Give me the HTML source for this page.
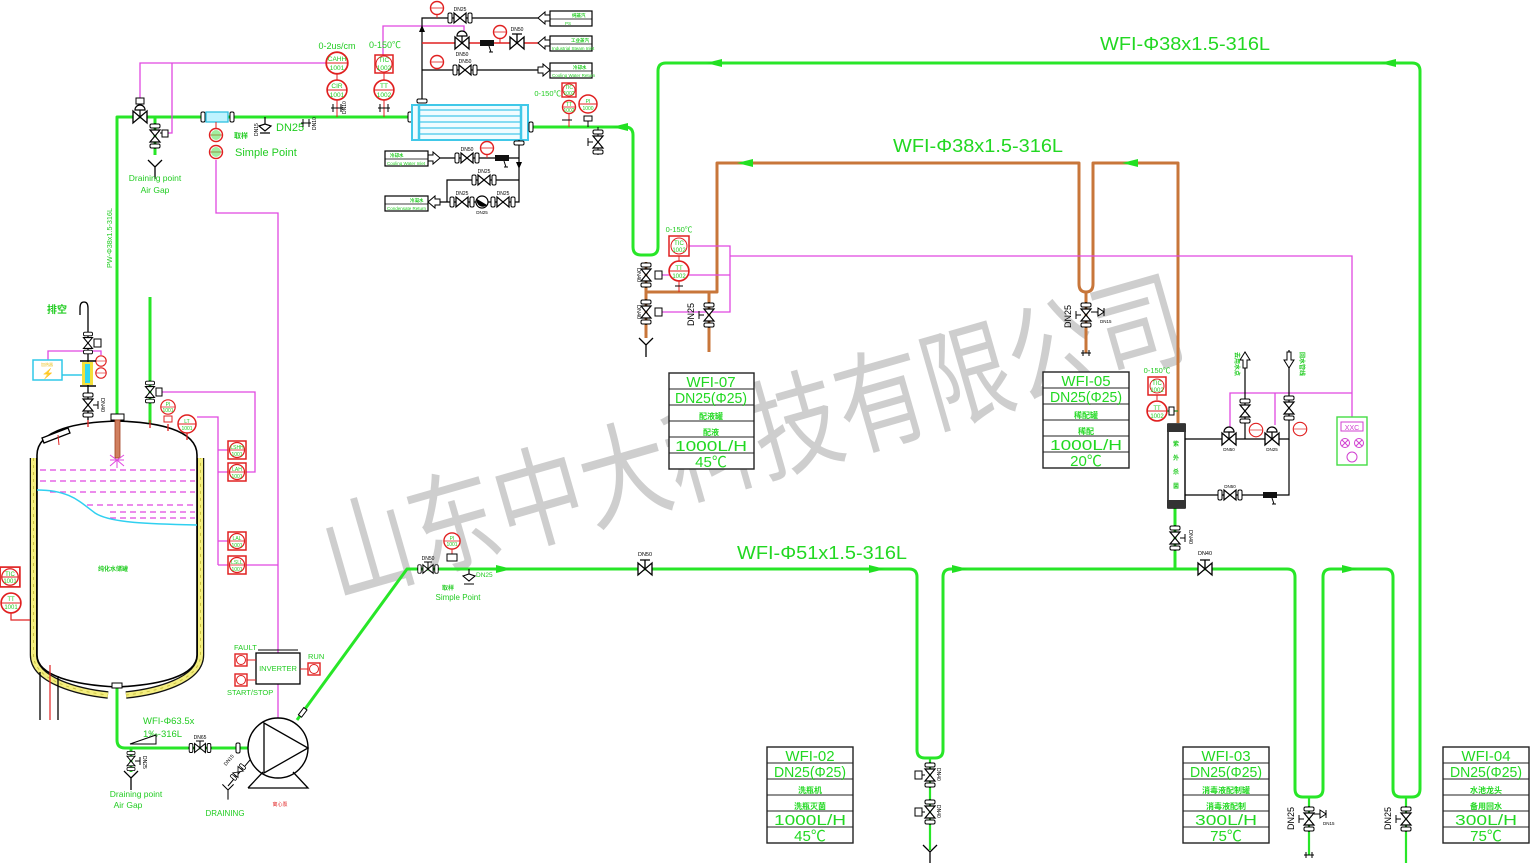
<!DOCTYPE html>
<html><head><meta charset="utf-8">
<style>html,body{margin:0;padding:0;background:#fff;}svg{display:block;}</style>
</head><body>
<svg xmlns="http://www.w3.org/2000/svg" width="1530" height="863" viewBox="0 0 1530 863" font-family="'Liberation Sans','Noto Sans CJK SC',sans-serif">
<defs>
<g id="hv"><line x1="-13" x2="13" stroke="#000" stroke-width="1"/><rect x="-12" y="-5" width="4" height="10" rx="1.5" fill="#fff" stroke="#000"/><rect x="8" y="-5" width="4" height="10" rx="1.5" fill="#fff" stroke="#000"/><path d="M-6,-5L6,5L6,-5L-6,5Z" fill="#fff" stroke="#000" stroke-width="1.2"/></g>
<g id="vv"><line y1="-13" y2="13" stroke="#000"/><rect x="-5" y="-12" width="10" height="4" rx="1.5" fill="#fff" stroke="#000"/><rect x="-5" y="8" width="10" height="4" rx="1.5" fill="#fff" stroke="#000"/><path d="M-5,-6L5,6L-5,6L5,-6Z" fill="#fff" stroke="#000" stroke-width="1.2"/></g>
<g id="bt"><path d="M-7,-6L7,6L7,-6L-7,6Z" fill="#fff" stroke="#000" stroke-width="1.3"/><path d="M0,0V-9M-5,-9H5" stroke="#000" stroke-width="1.3" fill="none"/></g>
<g id="cv"><path d="M-7,-6L7,6L7,-6L-7,6Z" fill="#fff" stroke="#000" stroke-width="1.3"/><path d="M0,0V-7M-5,-7A5,5 0 0 1 5,-7Z" stroke="#000" stroke-width="1.2" fill="#fff"/></g>
<g id="ic"><circle r="9" fill="#fff" stroke="#e02020" stroke-width="1.5"/><line x1="-9" x2="9" stroke="#e02020" stroke-width="0.9"/></g>
<g id="sc"><circle r="6.5" fill="#fff" stroke="#e02020" stroke-width="1.4"/><line x1="-6.5" x2="6.5" stroke="#e02020" stroke-width="0.8"/></g>
<g id="bx"><rect x="-9" y="-9" width="18" height="18" fill="#fff" stroke="#e02020" stroke-width="1.5"/><circle r="7.5" fill="none" stroke="#e02020" stroke-width="1.2"/><line x1="-7.5" x2="7.5" stroke="#e02020" stroke-width="0.8"/></g>
<g id="fl"><rect x="-5" y="-2" width="10" height="4" rx="1.5" fill="#fff" stroke="#000"/></g>
<g id="fh"><rect x="-2" y="-5" width="4" height="10" rx="1.5" fill="#fff" stroke="#000"/></g>
<path id="al" d="M0,0L16,-4L16,4Z" fill="#22e022"/>
<g id="dy"><path d="M-7,-7L0,0L7,-7M0,0V12" stroke="#000" stroke-width="1.3" fill="none"/></g>
<g id="st"><rect x="-7" y="-3" width="14" height="6" fill="#111"/><path d="M2,3L4,9M2,9H6" stroke="#000" fill="none"/></g>
</defs>

<!-- watermark -->
<text x="336" y="598" font-size="110" fill="#c6c6c6" fill-opacity="0.85" font-family="'Noto Sans CJK SC',sans-serif" transform="rotate(-16 336 598)" textLength="890" lengthAdjust="spacingAndGlyphs">山东中大科技有限公司</text>

<!-- GREEN PIPES -->
<g fill="none" stroke="#28e628" stroke-width="3" stroke-linejoin="round">
 <path d="M117,420 V117 H410"/>
 <path d="M530,127 H625 Q633,127 633,135 V247 Q633,255 641,255 H650 Q658,255 658,247 V71 Q658,63 666,63 H1412 Q1420,63 1420,71 V789 Q1420,797 1412,797 H1401 Q1393,797 1393,789 V577 Q1393,569 1385,569 H1331 Q1323,569 1323,577 V789 Q1323,797 1315,797 H1303 Q1295,797 1295,789 V577 Q1295,569 1287,569 H951 Q943,569 943,577 V750 Q943,758 935,758 H925 Q917,758 917,750 V577 Q917,569 909,569 H407 L297,720"/>
 <path d="M117,687 V740 Q117,748 125,748 H248"/>
 <path d="M1175,507 V569"/>
 <path d="M150,297 V425"/>
 <path d="M155,117 V155"/>
 <path d="M131,748 V772"/>
 <path d="M930,758 V850" stroke-width="2.2"/>
 <path d="M1309,797 V855" stroke-width="2.2"/>
 <path d="M1406,797 V863" stroke-width="2.2"/>
</g>
<use href="#al" transform="translate(706,63)"/>
<use href="#al" transform="translate(1380,63)"/>
<use href="#al" transform="translate(612,127)"/>
<use href="#al" transform="translate(512,569) rotate(180)"/>
<use href="#al" transform="translate(885,569) rotate(180)"/>
<use href="#al" transform="translate(968,569) rotate(180)"/>
<use href="#al" transform="translate(1358,569) rotate(180)"/>

<!-- ORANGE PIPES -->
<g fill="none" stroke="#c8763a" stroke-width="3" stroke-linejoin="round">
 <path d="M646,292 H717 V163 H1079 V284 Q1079,292 1086,292 Q1093,292 1093,284 V163 H1178 V423"/>
 <path d="M709,292 V352"/>
 <path d="M646,262 V338"/>
 <path d="M1086,292 V353"/>
</g>
<use href="#al" transform="translate(737,163)"/>
<use href="#al" transform="translate(1122,163)"/>

<!-- MAGENTA SIGNAL -->
<g fill="none" stroke="#e048e0" stroke-width="1.3">
 <path d="M140,101 V63 H326"/>
 <path d="M172,63 V133 H166"/>
 <path d="M216,160 V213 H278 V653"/>
 <path d="M278,684 V718"/>
 <path d="M383,56 V26 H464 V34"/>
 <path d="M218,565 H228 M246,565 H278"/>
 <path d="M160,392 H255 V472 H246"/>
 <path d="M197,417 H218 V565"/>
 <path d="M218,450 H228 M218,472 H228 M218,541 H228"/>
 <path d="M689,246 H730 V312 H662"/>
 <path d="M662,275 H730"/>
 <path d="M730,256 H1352 V417"/>
 <path d="M1230,430 V393 H1352"/>
 <path d="M1275,425 V393"/>
 <path d="M48,360 V351 H101 V355"/>
</g>

<!-- LABELS big -->
<g fill="#22d822" font-size="18">
 <text x="1100" y="50" textLength="170" lengthAdjust="spacingAndGlyphs">WFI-Φ38x1.5-316L</text>
 <text x="893" y="152" textLength="170" lengthAdjust="spacingAndGlyphs">WFI-Φ38x1.5-316L</text>
 <text x="737" y="559" textLength="170" lengthAdjust="spacingAndGlyphs">WFI-Φ51x1.5-316L</text>
</g>

<!-- TOP LEFT -->
<text x="112" y="268" font-size="7.5" fill="#22cc22" transform="rotate(-90 112 268)" textLength="60" lengthAdjust="spacingAndGlyphs">PW-Φ38x1.5-316L</text>
<use href="#cv" transform="translate(140,117)"/>
<rect x="136" y="98" width="8" height="6" fill="#fff" stroke="#000"/>
<use href="#vv" transform="translate(155,136)"/>
<rect x="162" y="130" width="6" height="7" fill="#fff" stroke="#000"/>
<line x1="160" y1="133" x2="162" y2="133" stroke="#000"/>
<use href="#dy" transform="translate(155,167)"/>
<g fill="#22cc22" font-size="8.5" text-anchor="middle"><text x="155" y="181">Draining point</text><text x="155" y="193">Air Gap</text></g>
<use href="#fh" transform="translate(203,117)"/><use href="#fh" transform="translate(232,117)"/>
<rect x="206" y="112" width="22" height="10" fill="#bff3ff" stroke="#30c0e0" stroke-width="1.3"/>
<line x1="216" y1="122" x2="216" y2="128" stroke="#e02020"/>
<use href="#sc" transform="translate(216,135)"/><use href="#sc" transform="translate(216,152)"/>
<circle cx="216" cy="135" r="5" fill="#44dd44" fill-opacity="0.5"/><circle cx="216" cy="152" r="5" fill="#44dd44" fill-opacity="0.5"/>
<text x="234" y="138" font-size="7" fill="#22cc22" font-weight="bold">取样</text>
<text x="235" y="156" font-size="11" fill="#22cc22">Simple Point</text>
<path d="M265,117 V124 M259,126 L265,124 L271,126 L265,131 Z M260,133 H270" stroke="#000" fill="#fff" stroke-width="1.2"/>
<text x="276" y="131" font-size="11" fill="#22cc22">DN25</text>
<text x="258" y="136" font-size="5" fill="#000" transform="rotate(-90 258 136)">DN15</text>
<path d="M301,123 h10 M303,119 v8 M309,119 v8" stroke="#000" fill="none"/>
<text x="316" y="130" font-size="5" fill="#000" transform="rotate(-90 316 130)">DN10</text>
<text x="337" y="49" font-size="9" fill="#22cc22" text-anchor="middle">0-2us/cm</text>
<use href="#ic" transform="translate(337,63) scale(1.2)"/>
<line x1="337" y1="74" x2="337" y2="80" stroke="#e02020"/>
<use href="#ic" transform="translate(337,90) scale(1.1)"/>
<line x1="337" y1="100" x2="337" y2="117" stroke="#e02020"/>
<path d="M331,108 h12 M333,104 v8 M341,104 v8" stroke="#000" fill="none"/>
<text x="346" y="114" font-size="5" fill="#000" transform="rotate(-90 346 114)">DN10</text>
<g fill="#22cc22" font-size="6.5" text-anchor="middle"><text x="337" y="61">CAHH</text><text x="337" y="70">1001</text><text x="337" y="88">CIR</text><text x="337" y="97">1001</text></g>
<text x="385" y="48" font-size="9" fill="#22cc22" text-anchor="middle">0-150℃</text>
<rect x="375" y="55" width="18" height="18" fill="#fff" stroke="#e02020" stroke-width="1.5"/>
<circle cx="384" cy="64" r="8" fill="none" stroke="#e02020"/>
<line x1="384" y1="73" x2="384" y2="80" stroke="#e02020"/>
<use href="#ic" transform="translate(384,90) scale(1.1)"/>
<line x1="384" y1="100" x2="384" y2="117" stroke="#e02020"/>
<path d="M378,108 h12 M380,104 v8 M388,104 v8" stroke="#000" fill="none"/>
<g fill="#22cc22" font-size="6.5" text-anchor="middle"><text x="384" y="62">TIC</text><text x="384" y="70">1002</text><text x="384" y="88">TT</text><text x="384" y="97">1002</text></g>

<!-- HEAT EXCHANGER -->
<use href="#fh" transform="translate(410,117)"/>
<rect x="412" y="105" width="116" height="35" fill="#effcff" stroke="#40c8e8" stroke-width="2"/>
<g stroke="#60d0ee" stroke-width="1.6"><line x1="420" y1="110" x2="520" y2="110"/><line x1="420" y1="116" x2="520" y2="116"/><line x1="420" y1="122" x2="520" y2="122"/><line x1="420" y1="128" x2="520" y2="128"/><line x1="420" y1="134" x2="520" y2="134"/></g>
<line x1="419" y1="105" x2="419" y2="140" stroke="#40c8e8" stroke-width="2.5"/>
<line x1="521" y1="105" x2="521" y2="140" stroke="#40c8e8" stroke-width="2.5"/>
<use href="#fh" transform="translate(531,127)"/>
<g stroke="#000" fill="none" stroke-width="1.2">
 <path d="M422,100 V18 H538"/>
 <path d="M422,70 H538"/>
 <path d="M519,140 V202 H428"/>
 <path d="M440,158 H519"/>
 <path d="M447,202 V180 H519"/>
</g>
<path d="M422,43 H538" stroke="#e02020" stroke-width="1.5"/>
<path d="M419,32 L422,25 L425,32 Z" fill="#000"/>
<use href="#fl" transform="translate(422,101)"/>
<use href="#fl" transform="translate(519,143)"/>
<path d="M516,162 L519,169 L522,162 Z" fill="#000"/>
<line x1="437" y1="14" x2="437" y2="18" stroke="#e02020"/>
<use href="#sc" transform="translate(437,8)"/>
<use href="#hv" transform="translate(460,18)"/>
<text x="460" y="11" font-size="5" text-anchor="middle">DN25</text>
<use href="#cv" transform="translate(462,43)"/>
<text x="462" y="56" font-size="5" text-anchor="middle">DN50</text>
<use href="#st" transform="translate(487,43)"/>
<line x1="500" y1="38" x2="500" y2="43" stroke="#e02020"/>
<use href="#sc" transform="translate(500,32)"/>
<use href="#bt" transform="translate(517,43)"/>
<text x="517" y="31" font-size="5" text-anchor="middle">DN50</text>
<line x1="437" y1="68" x2="437" y2="70" stroke="#e02020"/>
<use href="#sc" transform="translate(437,62)"/>
<use href="#hv" transform="translate(465,70)"/>
<text x="465" y="63" font-size="5" text-anchor="middle">DN50</text>
<g fill="#fff" stroke="#000" stroke-width="1">
 <path d="M538,18 L545,12 V15 H550 V21 H545 V24 Z"/>
 <path d="M538,43 L545,37 V40 H550 V46 H545 V49 Z"/>
 <path d="M550,70 L543,64 V67 H538 V73 H543 V76 Z"/>
 <path d="M440,158 L433,152 V155 H428 V161 H433 V164 Z"/>
 <path d="M428,202 L435,196 V199 H440 V205 H435 V208 Z"/>
</g>
<g fill="#fff" stroke="#000" stroke-width="1.2">
 <rect x="550" y="11" width="42" height="15"/><rect x="550" y="36" width="42" height="15"/><rect x="550" y="63" width="42" height="15"/>
 <rect x="385" y="151" width="43" height="15"/><rect x="385" y="196" width="43" height="15"/>
</g>
<g stroke="#000" stroke-width="0.8"><line x1="550" y1="19" x2="592" y2="19"/><line x1="550" y1="44" x2="592" y2="44"/><line x1="550" y1="71" x2="592" y2="71"/><line x1="385" y1="159" x2="428" y2="159"/><line x1="385" y1="204" x2="428" y2="204"/></g>
<g fill="#22cc22" font-size="4.5">
 <text x="572" y="17" font-weight="bold">纯蒸汽</text><text x="565" y="25">PS</text>
 <text x="571" y="42" font-weight="bold">工业蒸汽</text><text x="552" y="50">Industrial Steam Inlet</text>
 <text x="573" y="69" font-weight="bold">冷却水</text><text x="552" y="77">Cooling Water Return</text>
 <text x="390" y="157" font-weight="bold">冷却水</text><text x="387" y="165">Cooling Water Inlet</text>
 <text x="410" y="202" font-weight="bold">冷凝水</text><text x="387" y="210">Condensate Return</text>
</g>
<use href="#hv" transform="translate(467,158)"/>
<text x="467" y="151" font-size="5" text-anchor="middle">DN50</text>
<line x1="487" y1="154" x2="487" y2="158" stroke="#e02020"/>
<use href="#sc" transform="translate(487,148)"/>
<use href="#st" transform="translate(502,158)"/>
<use href="#hv" transform="translate(484,180)"/>
<text x="484" y="173" font-size="5" text-anchor="middle">DN25</text>
<use href="#hv" transform="translate(462,202)"/>
<text x="462" y="195" font-size="5" text-anchor="middle">DN25</text>
<circle cx="482" cy="202" r="6" fill="#fff" stroke="#000" stroke-width="1.2"/>
<path d="M477,199 A6,6 0 0 0 487,205 Z" fill="#000"/>
<text x="482" y="214" font-size="4.5" text-anchor="middle">DN25</text>
<use href="#hv" transform="translate(503,202)"/>
<text x="503" y="195" font-size="5" text-anchor="middle">DN25</text>

<!-- right of HE -->
<text x="561" y="96" font-size="7.5" fill="#22cc22" text-anchor="end">0-150℃</text>
<rect x="562" y="83" width="14" height="14" fill="#fff" stroke="#e02020" stroke-width="1.4"/>
<circle cx="569" cy="90" r="6" fill="none" stroke="#e02020"/>
<use href="#sc" transform="translate(569,107)"/>
<line x1="569" y1="113" x2="569" y2="127" stroke="#e02020"/>
<path d="M562,120 h10" stroke="#000"/>
<use href="#ic" transform="translate(588,104)"/>
<rect x="584" y="116" width="8" height="5" fill="#fff" stroke="#000"/>
<line x1="588" y1="121" x2="588" y2="127" stroke="#000"/>
<g fill="#22cc22" font-size="5" text-anchor="middle"><text x="569" y="89">TIC</text><text x="569" y="95">1002</text><text x="569" y="106">TT</text><text x="569" y="112">1002</text><text x="588" y="103">PI</text><text x="588" y="110">1000</text></g>
<line x1="598" y1="127" x2="598" y2="131" stroke="#000"/>
<use href="#vv" transform="translate(598,142)"/>
<path d="M593,142 H588 M588,138 V146" stroke="#000"/>

<!-- TANK -->
<text x="47" y="313" font-size="10" fill="#22cc22" font-weight="bold">排空</text>
<path d="M80,315 V308 Q80,302 84,302 Q88,302 88,308 V420" stroke="#000" stroke-width="1.3" fill="none"/>
<use href="#vv" transform="translate(88,343) scale(0.9)"/>
<rect x="94" y="339" width="7" height="8" fill="#fff" stroke="#000"/>
<use href="#sc" transform="translate(101,361) scale(0.8)"/>
<use href="#sc" transform="translate(101,373) scale(0.8)"/>
<rect x="82" y="362" width="11" height="23" fill="#f3e03a"/>
<rect x="85" y="364" width="5" height="19" fill="#30d8f0"/>
<line x1="80" y1="361" x2="96" y2="361" stroke="#000" stroke-width="1.5"/>
<line x1="80" y1="386" x2="96" y2="386" stroke="#000" stroke-width="1.5"/>
<rect x="33" y="360" width="29" height="20" fill="#fff" stroke="#30c8e8" stroke-width="1.5"/>
<text x="47" y="366" font-size="4" fill="#e8c020" text-anchor="middle">加热器</text>
<text x="48" y="377" font-size="10" fill="#e8c020" text-anchor="middle">⚡</text>
<line x1="62" y1="375" x2="82" y2="375" stroke="#30c8e8" stroke-width="1.5"/>
<use href="#vv" transform="translate(88,405)"/>
<path d="M93,405 H98 M98,401 V409" stroke="#000"/>
<text x="101" y="398" font-size="5.5" transform="rotate(90 101 398)">DN40</text>
<!-- jacket -->
<path d="M33.5,458 V655 C33.5,681 80,692 108,695 M126,695 C155,692 200.5,681 200.5,655 V458" fill="none" stroke="#111" stroke-width="7.5"/>
<path d="M33.5,458 V655 C33.5,681 80,692 108,695 M126,695 C155,692 200.5,681 200.5,655 V458" fill="none" stroke="#f4ee80" stroke-width="5"/>
<path d="M33.5,458 V655 C33.5,681 80,692 108,695 M126,695 C155,692 200.5,681 200.5,655 V458" fill="none" stroke="#c8c040" stroke-width="1" stroke-dasharray="3 4"/>
<path d="M37,455 C37,429 80,422 117,421 C155,422 197,429 197,455 V655 C197,676 160,685 117,687 C75,685 37,676 37,655 Z" fill="#fff" stroke="#000" stroke-width="1.6"/>
<g stroke="#000" stroke-width="1.3"><line x1="40" y1="672" x2="40" y2="720"/><line x1="58" y1="676" x2="58" y2="720"/></g>
<line x1="50" y1="665" x2="50" y2="720" stroke="#e02020" stroke-width="1.2"/>
<path d="M42,438 L68,428 L70,433 L44,443 Z" fill="#fff" stroke="#000" stroke-width="1.3"/>
<line x1="58" y1="435" x2="59" y2="445" stroke="#e02020"/>
<rect x="111" y="414" width="13" height="6" fill="#fff" stroke="#000"/>
<rect x="115" y="420" width="5" height="38" fill="#d08060" stroke="#a04020" stroke-width="0.8"/>
<g stroke="#e048e0" stroke-width="1"><path d="M117,460 l-7,-5 M117,460 l7,-5 M117,460 l-7,6 M117,460 l7,6 M117,460 v8 M110,460 h14"/></g>
<g stroke="#e02020" stroke-width="1.3"><line x1="88" y1="420" x2="88" y2="427"/><line x1="150" y1="420" x2="150" y2="428"/><line x1="168" y1="424" x2="168" y2="431"/><line x1="187" y1="432" x2="187" y2="440"/></g>
<use href="#vv" transform="translate(150,392) scale(0.9)"/>
<rect x="156" y="388" width="6" height="8" fill="#fff" stroke="#000"/>
<use href="#ic" transform="translate(168,407) scale(0.8)"/>
<rect x="164" y="416" width="8" height="6" fill="#fff" stroke="#e02020"/>
<use href="#ic" transform="translate(187,424)"/>
<g fill="#22cc22" font-size="5" text-anchor="middle"><text x="168" y="406">PI</text><text x="168" y="412">1001</text><text x="187" y="423">LT</text><text x="187" y="430">1001</text></g>
<g stroke="#e048e0" stroke-width="1.3" stroke-dasharray="6 4"><line x1="40" y1="470" x2="195" y2="470"/><line x1="40" y1="481" x2="195" y2="481"/><line x1="50" y1="492" x2="195" y2="492"/><line x1="87" y1="505" x2="195" y2="505"/><line x1="110" y1="512" x2="195" y2="512"/><line x1="110" y1="518" x2="195" y2="518"/></g>
<path d="M37,490 C70,490 80,502 95,513 C110,523 150,524 197,525" stroke="#30d0f0" stroke-width="1.5" fill="none"/>
<text x="113" y="571" font-size="6" fill="#22cc22" text-anchor="middle" font-weight="bold">纯化水储罐</text>
<use href="#bx" transform="translate(237,450)"/><use href="#bx" transform="translate(237,472)"/>
<use href="#bx" transform="translate(237,541)"/><use href="#bx" transform="translate(237,565)"/>
<g fill="#22cc22" font-size="5" text-anchor="middle">
 <text x="237" y="449">LSHH</text><text x="237" y="456">1001</text>
 <text x="237" y="471">LAH</text><text x="237" y="478">1001</text>
 <text x="237" y="540">LAL</text><text x="237" y="547">1001</text>
 <text x="237" y="564">LSLL</text><text x="237" y="571">1001</text>
</g>
<use href="#bx" transform="translate(10,577) scale(1.1)"/>
<use href="#ic" transform="translate(11,603) scale(1.1)"/>
<path d="M11,613 V620 H30" stroke="#e02020" stroke-width="1.2" fill="none"/>
<g fill="#22cc22" font-size="6" text-anchor="middle"><text x="10" y="576">TIC</text><text x="10" y="583">1001</text><text x="11" y="601">TT</text><text x="11" y="609">1001</text></g>

<!-- BOTTOM / PUMP -->
<rect x="112" y="683" width="10" height="5" fill="#fff" stroke="#000"/>
<text x="143" y="724" font-size="9.5" fill="#22cc22">WFI-Φ63.5x</text>
<text x="143" y="737" font-size="9.5" fill="#22cc22">1‰-316L</text>
<path d="M130,744 L156,735 L156,744 Z" fill="#fff" stroke="#000"/>
<use href="#hv" transform="translate(200,748) scale(0.9)"/>
<path d="M200,748 V741 M196,741 H204" stroke="#000"/>
<text x="200" y="739" font-size="5" text-anchor="middle">DN65</text>
<use href="#fh" transform="translate(238,748)"/>
<use href="#vv" transform="translate(131,761) scale(0.8)"/>
<path d="M135,761 H140 M140,757 V765" stroke="#000"/>
<text x="143" y="756" font-size="5" transform="rotate(90 143 756)">DN25</text>
<use href="#dy" transform="translate(131,778)"/>
<g fill="#22cc22" font-size="8.5" text-anchor="middle"><text x="136" y="797">Draining point</text><text x="128" y="808">Air Gap</text></g>
<circle cx="278" cy="748" r="30" fill="#fff" stroke="#000" stroke-width="1.4"/>
<path d="M264,723 V773 L308,748 Z" fill="none" stroke="#000" stroke-width="1.3"/>
<path d="M248,788 H308 L293,772 M263,772 L248,788" fill="none" stroke="#000" stroke-width="1.3"/>
<line x1="250" y1="760" x2="228" y2="786" stroke="#000"/>
<use href="#vv" transform="translate(238,772) rotate(40) scale(0.7)"/>
<text x="226" y="766" font-size="5" transform="rotate(-50 226 766)">DN15</text>
<use href="#dy" transform="translate(228,790) scale(0.8)"/>
<text x="225" y="816" font-size="8" fill="#22cc22" text-anchor="middle">DRAINING</text>
<text x="280" y="806" font-size="5" fill="#e02020" text-anchor="middle">离心泵</text>
<rect x="298" y="710" width="9" height="4" fill="#fff" stroke="#000" transform="rotate(-53 303 712)"/>
<rect x="256" y="653" width="44" height="31" fill="#fff" stroke="#000" stroke-width="1.3"/>
<line x1="258" y1="650" x2="298" y2="650" stroke="#000"/>
<text x="278" y="671" font-size="7.5" fill="#22cc22" text-anchor="middle">INVERTER</text>
<g fill="#fff" stroke="#e02020" stroke-width="1.4"><rect x="235" y="654" width="12" height="12"/><rect x="235" y="674" width="12" height="12"/><rect x="308" y="663" width="12" height="12"/></g>
<g fill="none" stroke="#e02020" stroke-width="1"><circle cx="241" cy="660" r="4.5"/><circle cx="241" cy="680" r="4.5"/><circle cx="314" cy="669" r="4.5"/><path d="M247,660 H256 M247,680 H256 M300,669 H308"/></g>
<g fill="#22cc22" font-size="7.5"><text x="234" y="650">FAULT</text><text x="227" y="695">START/STOP</text><text x="308" y="659">RUN</text></g>

<!-- y=569 line start -->
<use href="#hv" transform="translate(428,569) scale(0.85)"/>
<path d="M428,569 V562 M424,562 H432" stroke="#000"/>
<text x="428" y="560" font-size="5" text-anchor="middle">DN50</text>
<use href="#ic" transform="translate(452,541) scale(0.9)"/>
<g fill="#22cc22" font-size="5" text-anchor="middle"><text x="452" y="540">PI</text><text x="452" y="546">1001</text></g>
<line x1="452" y1="549" x2="452" y2="554" stroke="#e02020"/>
<rect x="447" y="554" width="10" height="7" fill="#fff" stroke="#000"/>
<path d="M469,569 V574 M463,576 L469,574 L475,576 L469,581 Z M464,584 H474" stroke="#000" fill="#fff" stroke-width="1.1"/>
<text x="476" y="577" font-size="6.5" fill="#22cc22">DN25</text>
<text x="442" y="590" font-size="6" fill="#22cc22" font-weight="bold">取样</text>
<text x="458" y="600" font-size="8" fill="#22cc22" text-anchor="middle">Simple Point</text>
<use href="#bt" transform="translate(645,569)"/>
<text x="645" y="556" font-size="5.5" text-anchor="middle">DN50</text>

<!-- WFI-07 area -->
<rect x="669" y="236" width="20" height="20" fill="#fff" stroke="#e02020" stroke-width="1.5"/>
<circle cx="679" cy="246" r="8" fill="none" stroke="#e02020"/>
<text x="679" y="232" font-size="7.5" fill="#22cc22" text-anchor="middle">0-150℃</text>
<line x1="679" y1="256" x2="679" y2="261" stroke="#e02020"/>
<use href="#ic" transform="translate(679,271) scale(1.1)"/>
<line x1="679" y1="281" x2="679" y2="292" stroke="#e02020"/>
<path d="M675,286 h8" stroke="#000"/>
<g fill="#22cc22" font-size="6" text-anchor="middle"><text x="679" y="245">TIC</text><text x="679" y="252">1002</text><text x="679" y="270">TT</text><text x="679" y="278">1002</text></g>
<use href="#vv" transform="translate(646,275)"/>
<rect x="655" y="271" width="7" height="8" fill="#fff" stroke="#000"/>
<text x="637" y="268" font-size="5.5" transform="rotate(90 637 268)">DN40</text>
<use href="#vv" transform="translate(646,312)"/>
<rect x="655" y="308" width="7" height="8" fill="#fff" stroke="#000"/>
<text x="637" y="305" font-size="5.5" transform="rotate(90 637 305)">DN40</text>
<use href="#dy" transform="translate(646,345)"/>
<use href="#vv" transform="translate(709,315)"/>
<path d="M704,315 H699 M699,311 V319" stroke="#000"/>
<text x="694" y="326" font-size="9" transform="rotate(-90 694 326)">DN25</text>

<!-- WFI-05 valve -->
<use href="#vv" transform="translate(1086,315)"/>
<path d="M1081,315 H1076 M1076,311 V319" stroke="#000"/>
<text x="1071" y="328" font-size="9" transform="rotate(-90 1071 328)">DN25</text>
<path d="M1091,312 H1098 M1098,308 L1104,312 L1098,316 Z M1104,308 V316" stroke="#000" fill="#fff"/>
<text x="1100" y="323" font-size="4.5">DN15</text>
<path d="M1081,353 h10 M1083,350 v6 M1089,350 v6" stroke="#000" fill="none"/>

<!-- UV sterilizer area -->
<text x="1157" y="373" font-size="7.5" fill="#22cc22" text-anchor="middle">0-150℃</text>
<rect x="1148" y="377" width="18" height="18" fill="#fff" stroke="#e02020" stroke-width="1.5"/>
<circle cx="1157" cy="386" r="7" fill="none" stroke="#e02020"/>
<line x1="1157" y1="395" x2="1157" y2="400" stroke="#e02020"/>
<use href="#ic" transform="translate(1157,411) scale(1.1)"/>
<path d="M1167,411 H1178" stroke="#2a8a2a" stroke-width="1.3"/>
<rect x="1169" y="407" width="5" height="8" fill="#fff" stroke="#000"/>
<g fill="#22cc22" font-size="6" text-anchor="middle"><text x="1157" y="385">TIC</text><text x="1157" y="392">1002</text><text x="1157" y="410">TT</text><text x="1157" y="418">1002</text></g>
<rect x="1168" y="424" width="17" height="84" fill="#fff" stroke="#000" stroke-width="1.4"/>
<rect x="1167" y="424" width="19" height="8" fill="#333"/>
<rect x="1167" y="500" width="19" height="8" fill="#333"/>
<g fill="#22cc22" font-size="6" text-anchor="middle" font-weight="bold"><text x="1176" y="446">紫</text><text x="1176" y="460">外</text><text x="1176" y="474">杀</text><text x="1176" y="488">菌</text></g>
<g stroke="#000" stroke-width="1.2" fill="none">
 <path d="M1185,439 H1289 V350"/>
 <path d="M1185,495 H1289 V439"/>
 <path d="M1245,439 V352"/>
</g>
<use href="#cv" transform="translate(1229,439)"/>
<text x="1229" y="451" font-size="4.5" text-anchor="middle">DN50</text>
<use href="#vv" transform="translate(1245,411)"/>
<use href="#ic" transform="translate(1256,430) scale(0.75)"/>
<use href="#cv" transform="translate(1272,439)"/>
<text x="1272" y="451" font-size="4.5" text-anchor="middle">DN25</text>
<use href="#vv" transform="translate(1289,408)"/>
<use href="#ic" transform="translate(1300,429) scale(0.75)"/>
<use href="#hv" transform="translate(1230,495)"/>
<text x="1230" y="488" font-size="4.5" text-anchor="middle">DN50</text>
<use href="#st" transform="translate(1270,495)"/>
<path d="M1245,352 L1240,360 H1243 V368 H1247 V360 H1250 Z" fill="#fff" stroke="#000"/>
<path d="M1289,368 L1284,360 H1287 V352 H1291 V360 H1294 Z" fill="#fff" stroke="#000"/>
<g fill="#22cc22" font-size="6" font-weight="bold"><text x="1235" y="352" transform="rotate(90 1235 352)">去用水点</text><text x="1300" y="352" transform="rotate(90 1300 352)">回水管线</text></g>
<rect x="1337" y="417" width="30" height="48" fill="#fff" stroke="#44dd44" stroke-width="1.4"/>
<rect x="1341" y="422" width="22" height="9" fill="#fff" stroke="#d040d0"/>
<text x="1352" y="430" font-size="7" fill="#d040d0" text-anchor="middle">XXC</text>
<g fill="none" stroke="#d040d0"><circle cx="1345" cy="443" r="4.5"/><circle cx="1359" cy="443" r="4.5"/><circle cx="1352" cy="457" r="5"/><path d="M1342,440 l6,6 M1348,440 l-6,6 M1356,440 l6,6 M1362,440 l-6,6"/></g>
<use href="#vv" transform="translate(1175,538)"/>
<path d="M1180,538 H1185 M1185,534 V542" stroke="#000"/>
<text x="1189" y="530" font-size="5.5" transform="rotate(90 1189 530)">DN40</text>
<use href="#bt" transform="translate(1205,569)"/>
<text x="1205" y="555" font-size="5.5" text-anchor="middle">DN40</text>

<!-- drains under U -->
<use href="#vv" transform="translate(930,775)"/>
<rect x="915" y="771" width="7" height="8" fill="#fff" stroke="#000"/><line x1="922" y1="775" x2="925" y2="775" stroke="#000"/>
<text x="937" y="768" font-size="5" transform="rotate(90 937 768)">DN40</text>
<use href="#vv" transform="translate(930,812)"/>
<rect x="915" y="808" width="7" height="8" fill="#fff" stroke="#000"/><line x1="922" y1="812" x2="925" y2="812" stroke="#000"/>
<text x="937" y="805" font-size="5" transform="rotate(90 937 805)">DN40</text>
<use href="#dy" transform="translate(930,852)"/>
<use href="#vv" transform="translate(1309,819)"/>
<path d="M1304,819 H1299 M1299,815 V823" stroke="#000"/>
<text x="1294" y="830" font-size="9" transform="rotate(-90 1294 830)">DN25</text>
<path d="M1314,814 H1320 M1320,810 L1326,814 L1320,818 Z M1326,810 V818" stroke="#000" fill="#fff"/>
<text x="1323" y="825" font-size="4.5">DN15</text>
<path d="M1304,855 h10 M1306,852 v6 M1312,852 v6" stroke="#000" fill="none"/>
<use href="#vv" transform="translate(1406,819)"/>
<path d="M1401,819 H1396 M1396,815 V823" stroke="#000"/>
<text x="1391" y="830" font-size="9" transform="rotate(-90 1391 830)">DN25</text>

<!-- INFO BOXES -->
<g fill="#fff" stroke="#222" stroke-width="1.4">
 <rect x="669" y="373" width="85" height="96"/><rect x="1043" y="372" width="86" height="96"/>
 <rect x="767" y="747" width="86" height="96"/><rect x="1183" y="747" width="86" height="96"/><rect x="1443" y="747" width="86" height="96"/>
</g>
<g stroke="#222" stroke-width="1.1">
 <path d="M669,389H754M669,405H754M669,421H754M669,437H754M669,453H754"/>
 <path d="M1043,388H1129M1043,404H1129M1043,420H1129M1043,436H1129M1043,452H1129"/>
 <path d="M767,763H853M767,779H853M767,795H853M767,811H853M767,827H853"/>
 <path d="M1183,763H1269M1183,779H1269M1183,795H1269M1183,811H1269M1183,827H1269"/>
 <path d="M1443,763H1529M1443,779H1529M1443,795H1529M1443,811H1529M1443,827H1529"/>
</g>
<g fill="#22d822" font-size="15" text-anchor="middle">
 <text x="711" y="387">WFI-07</text><text x="711" y="403" textLength="72" lengthAdjust="spacingAndGlyphs">DN25(Φ25)</text><text x="711" y="419" font-size="8" font-weight="bold">配液罐</text><text x="711" y="435" font-size="8" font-weight="bold">配液</text><text x="711" y="451" textLength="72" lengthAdjust="spacingAndGlyphs">1000L/H</text><text x="711" y="467">45℃</text>
 <text x="1086" y="386">WFI-05</text><text x="1086" y="402" textLength="72" lengthAdjust="spacingAndGlyphs">DN25(Φ25)</text><text x="1086" y="418" font-size="8" font-weight="bold">稀配罐</text><text x="1086" y="434" font-size="8" font-weight="bold">稀配</text><text x="1086" y="450" textLength="72" lengthAdjust="spacingAndGlyphs">1000L/H</text><text x="1086" y="466">20℃</text>
 <text x="810" y="761">WFI-02</text><text x="810" y="777" textLength="72" lengthAdjust="spacingAndGlyphs">DN25(Φ25)</text><text x="810" y="793" font-size="8" font-weight="bold">洗瓶机</text><text x="810" y="809" font-size="8" font-weight="bold">洗瓶灭菌</text><text x="810" y="825" textLength="72" lengthAdjust="spacingAndGlyphs">1000L/H</text><text x="810" y="841">45℃</text>
 <text x="1226" y="761">WFI-03</text><text x="1226" y="777" textLength="72" lengthAdjust="spacingAndGlyphs">DN25(Φ25)</text><text x="1226" y="793" font-size="8" font-weight="bold">消毒液配制罐</text><text x="1226" y="809" font-size="8" font-weight="bold">消毒液配制</text><text x="1226" y="825" textLength="62" lengthAdjust="spacingAndGlyphs">300L/H</text><text x="1226" y="841">75℃</text>
 <text x="1486" y="761">WFI-04</text><text x="1486" y="777" textLength="72" lengthAdjust="spacingAndGlyphs">DN25(Φ25)</text><text x="1486" y="793" font-size="8" font-weight="bold">水池龙头</text><text x="1486" y="809" font-size="8" font-weight="bold">备用回水</text><text x="1486" y="825" textLength="62" lengthAdjust="spacingAndGlyphs">300L/H</text><text x="1486" y="841">75℃</text>
</g>
</svg>
</body></html>
